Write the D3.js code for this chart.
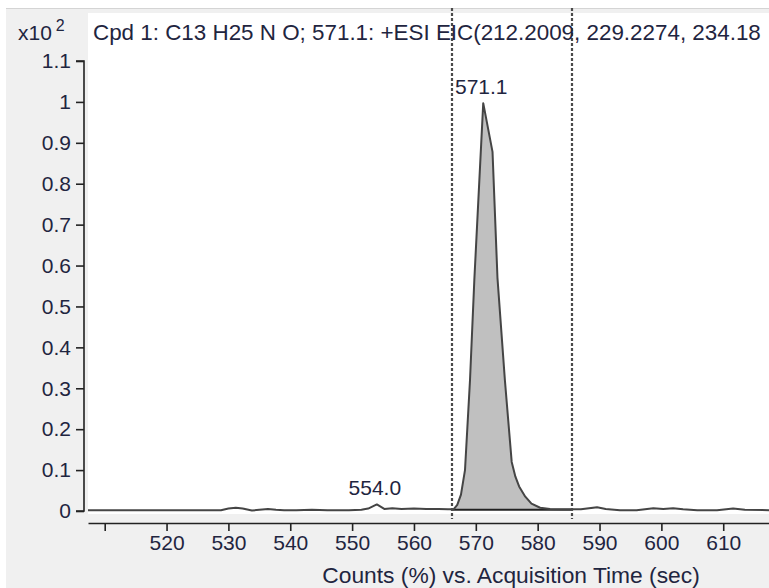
<!DOCTYPE html>
<html>
<head>
<meta charset="utf-8">
<script src="https://cdn.jsdelivr.net/npm/d3@7"></script>
<style>
  html, body { margin: 0; padding: 0; background: #ffffff; }
  svg { display: block; }
  text { font-family: "Liberation Sans", Arial, sans-serif; }
</style>
</head>
<body>
<svg id="chart" width="769" height="588"></svg>
<script>
// ---- data ----
const titleText = "Cpd 1: C13 H25 N O; 571.1: +ESI EIC(212.2009, 229.2274, 234.18";
const xAxisTitle = "Counts (%) vs. Acquisition Time (sec)";
const yScaleLabel = "x10";
const yScaleExp = "2";

const times = [507.3, 528.8, 530.0, 531.2, 532.3, 533.8, 535.0, 536.4, 537.7, 539.0,
  541.0, 543.5, 546.0, 549.5, 551.5, 552.6, 554.0, 555.2, 556.5, 558.0,
  560.0, 562.0, 564.0, 565.5, 566.4, 567.0, 567.6, 568.25, 569.06, 569.76,
  571.2, 572.7, 573.5, 574.7, 575.8, 576.4, 577.0, 578.0, 579.0, 580.4,
  582.0, 584.0, 585.6, 587.0, 589.6, 591.0, 593.3, 596.0, 598.7, 600.3,
  601.9, 603.5, 605.8, 609.0, 611.6, 613.5, 617.4];
const counts = [0.002, 0.002, 0.006, 0.008, 0.006, 0.001, 0.003, 0.005, 0.003, 0.002,
  0.002, 0.003, 0.002, 0.002, 0.003, 0.006, 0.016, 0.005, 0.007, 0.005,
  0.006, 0.005, 0.005, 0.004, 0.004, 0.015, 0.04, 0.10, 0.32, 0.565,
  0.997, 0.878, 0.57, 0.32, 0.12, 0.084, 0.06, 0.035, 0.018, 0.008,
  0.005, 0.004, 0.004, 0.004, 0.009, 0.005, 0.002, 0.002, 0.007, 0.005,
  0.007, 0.004, 0.002, 0.002, 0.006, 0.003, 0.002];

const integrationBounds = [566.2, 585.6];
const peakLabels = [{ t: 571.2, v: 0.997, text: "571.1" }, { t: 554.0, v: 0.016, text: "554.0" }];

const xTickValues = [510, 520, 530, 540, 550, 560, 570, 580, 590, 600, 610];
const xTickLabels = ["", "520", "530", "540", "550", "560", "570", "580", "590", "600", "610"];
const yTickValues = [0, 0.1, 0.2, 0.3, 0.4, 0.5, 0.6, 0.7, 0.8, 0.9, 1.0, 1.1];
const yTickLabels = ["0", "0.1", "0.2", "0.3", "0.4", "0.5", "0.6", "0.7", "0.8", "0.9", "1", "1.1"];

// ---- layout ----
const W = 769, H = 588;
const plotLeft = 88, plotRight = 769, plotTop = 13, plotBottom = 514;
const textColor = "#1f2540";

const svg = d3.select("#chart");

svg.append("rect").attr("x", 0).attr("y", 0).attr("width", W).attr("height", H).attr("fill", "#ffffff");
svg.append("rect").attr("x", 6).attr("y", 8).attr("width", W - 6).attr("height", H - 8).attr("fill", "#f0f0f0");
svg.append("line").attr("x1", 6).attr("x2", W).attr("y1", 8.5).attr("y2", 8.5).attr("stroke", "#d4d4d4").attr("stroke-width", 1);
svg.append("rect").attr("x", plotLeft).attr("y", plotTop).attr("width", plotRight - plotLeft).attr("height", plotBottom - plotTop).attr("fill", "#ffffff");

const x = d3.scaleLinear().domain([507.3, 617.4]).range([plotLeft, plotRight]);
const y = d3.scaleLinear().domain([0, 1.1]).range([511, 61]);

const data = times.map((t, i) => ({ t, v: counts[i] }));

svg.append("clipPath").attr("id", "plotClip").append("rect")
  .attr("x", plotLeft).attr("y", 0).attr("width", plotRight - plotLeft).attr("height", 525);

const g = svg.append("g").attr("clip-path", "url(#plotClip)");

// integrated area
const inside = data.filter(d => d.t >= integrationBounds[0] && d.t <= integrationBounds[1]);
g.append("path")
  .datum(inside)
  .attr("fill", "#c0c0c0")
  .attr("d", d3.area().x(d => x(d.t)).y0(y(0.003)).y1(d => y(d.v)));

// integration baseline
g.append("line")
  .attr("x1", x(integrationBounds[0])).attr("x2", x(integrationBounds[1]))
  .attr("y1", y(0.003)).attr("y2", y(0.003))
  .attr("stroke", "#222").attr("stroke-width", 2);

// chromatogram line
g.append("path")
  .datum(data)
  .attr("fill", "none")
  .attr("stroke", "#454545")
  .attr("stroke-width", 2)
  .attr("stroke-linejoin", "round")
  .attr("d", d3.line().x(d => x(d.t)).y(d => y(d.v)));

// dashed integration bounds
integrationBounds.forEach(b => {
  const bx = Math.round(x(b));
  svg.append("line")
    .attr("x1", bx).attr("x2", bx)
    .attr("y1", 8).attr("y2", 519)
    .attr("stroke", "#4a4a4a").attr("stroke-width", 2.2)
    .attr("stroke-dasharray", "3,2");
});

// y axis
const yAxis = d3.axisLeft(y).tickValues(yTickValues)
  .tickFormat((d, i) => yTickLabels[i]).tickSize(8).tickPadding(5);
const yg = svg.append("g").attr("transform", "translate(84,0)").call(yAxis);
yg.select(".domain").attr("stroke", "#222").attr("stroke-width", 1.6).attr("d", `M-8,${y(1.1)}H0V${y(0)}H-8`);
yg.selectAll(".tick line").attr("stroke", "#222").attr("stroke-width", 1.6);
yg.selectAll(".tick text").attr("fill", textColor).style("font-size", "21px")
  .style("font-family", "'Liberation Sans', Arial, sans-serif");

// x axis
const xAxis = d3.axisBottom(x).tickValues(xTickValues)
  .tickFormat((d, i) => xTickLabels[i]).tickSizeInner(8).tickSizeOuter(0).tickPadding(4);
const xg = svg.append("g").attr("transform", "translate(0,523)").call(xAxis);
xg.select(".domain").attr("stroke", "#222").attr("stroke-width", 1.6);
xg.selectAll(".tick line").attr("stroke", "#222").attr("stroke-width", 1.6);
xg.selectAll(".tick text").attr("fill", textColor).style("font-size", "21px")
  .style("font-family", "'Liberation Sans', Arial, sans-serif");

// axis title
svg.append("text").attr("x", 511).attr("y", 583).attr("text-anchor", "middle")
  .attr("fill", textColor).style("font-size", "22.8px").text(xAxisTitle);

// title
svg.append("text").attr("x", 93).attr("y", 40).attr("fill", textColor)
  .style("font-size", "22.4px").text(titleText);

// scale label
const sl = svg.append("text").attr("x", 18).attr("y", 40).attr("fill", textColor).style("font-size", "21px");
sl.append("tspan").text(yScaleLabel);
sl.append("tspan").attr("dx", 4).attr("dy", -9).style("font-size", "16px").text(yScaleExp);

// peak labels
peakLabels.forEach(p => {
  svg.append("text").attr("x", x(p.t) - 2).attr("y", y(p.v) - 9).attr("text-anchor", "middle")
    .attr("fill", textColor).style("font-size", "21px").text(p.text);
});
</script>
</body>
</html>
